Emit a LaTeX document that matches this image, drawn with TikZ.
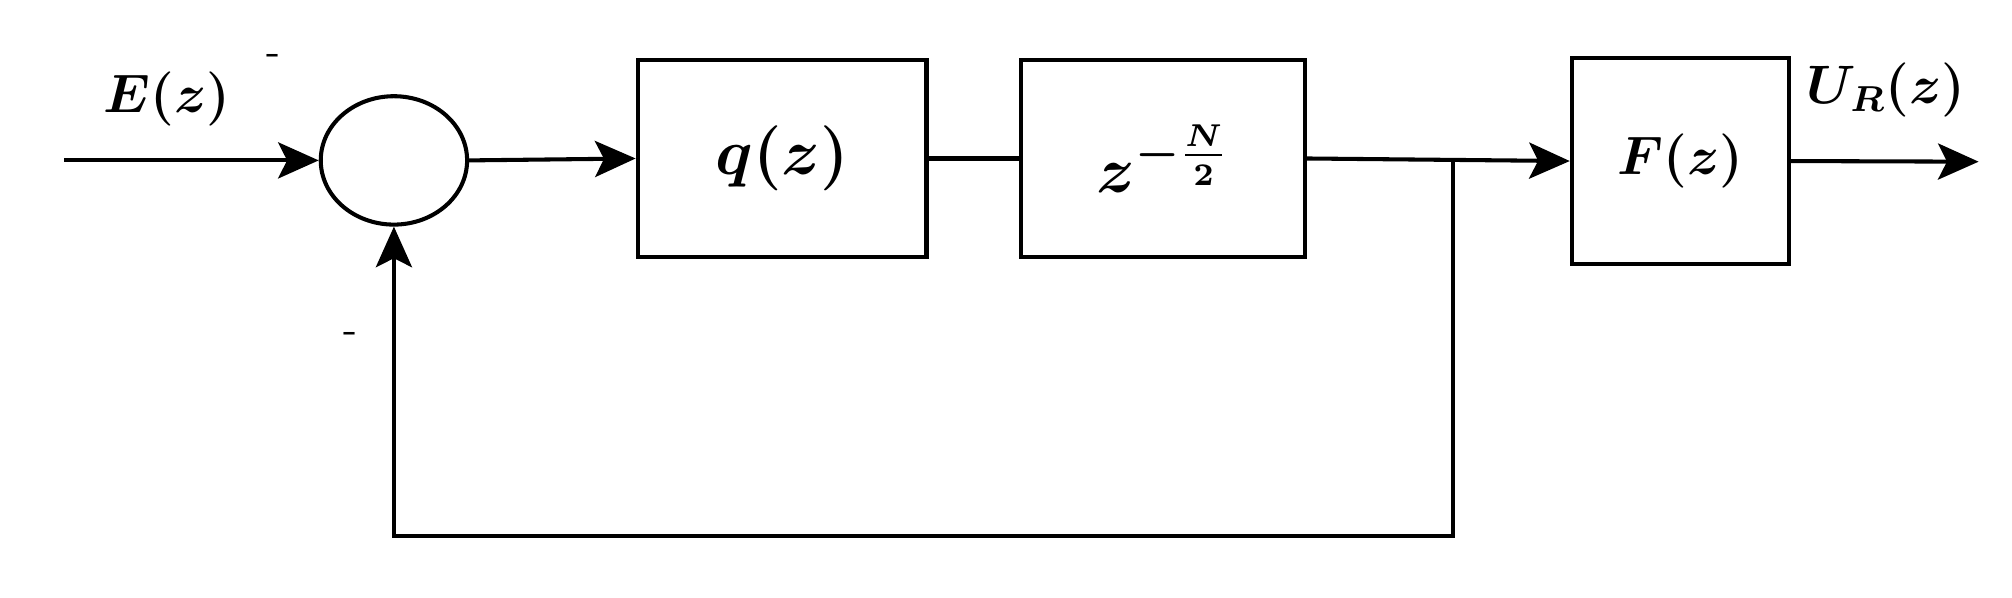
\documentclass[tikz,border=0pt]{standalone}
\usepackage{amsmath,bm}
\usetikzlibrary{arrows.meta,shapes.geometric}
\begin{document}
\begin{tikzpicture}[x=0.01cm,y=-0.01cm,
  blk/.style={draw,line width=0.9pt,inner sep=0pt},
  ln/.style={line width=0.9pt},
  arr/.style={ln,-{Stealth[length=9pt,width=8pt,inset=2pt]}},
  lbl/.style={font=\fontsize{12}{14}\selectfont}]
\useasboundingbox (0,0) rectangle (1568,466);
\node[blk,ellipse,minimum width=1.14cm,minimum height=1.0cm] (s) at (307,125) {};
\node[blk,minimum width=2.25cm,minimum height=1.53cm] (q) at (609.5,123.5) {\fontsize{15}{18}\selectfont$\boldsymbol{q(z)}$};
\node[blk,minimum width=2.21cm,minimum height=1.53cm] (d) at (906.5,123.5) {\fontsize{15}{18}\selectfont$\boldsymbol{z}^{\boldsymbol{-\frac{N}{2}}}$};
\node[blk,minimum width=1.69cm,minimum height=1.61cm] (f) at (1309.5,125.5) {\fontsize{13}{16}\selectfont$\boldsymbol{F(z)}$};
\coordinate (in) at (50,125);
\coordinate (out) at (1542,126);
\coordinate (br) at (1132,126);
\coordinate (c1) at (1132,418);
\coordinate (c2) at (307,418);
\draw[arr] (in) -- (s.west);
\draw[arr] (s.east) -- (q.west);
\draw[ln] (q.east) -- (d.west);
\draw[arr] (d.east) -- (f.west);
\draw[arr] (f.east) -- (out);
\draw[arr] (br) -- (c1) -- (c2) -- (s.south);
\node[lbl] (e) at (130,77) {$\boldsymbol{E(z)}$};
\node[lbl] (u) at (1470,70) {$\boldsymbol{U_R(z)}$};
\node[font=\small] (m1) at (213,46) {-};
\node[font=\small] (m2) at (273,263) {-};
\end{tikzpicture}
\end{document}
